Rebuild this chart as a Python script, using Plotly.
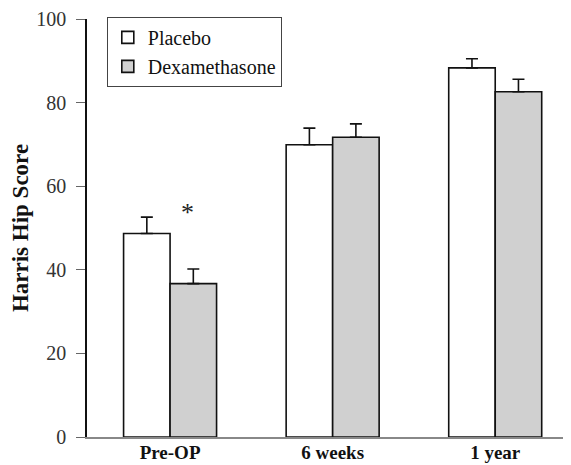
import plotly.graph_objects as go

categories = ["Pre-OP", "6 weeks", "1 year"]
placebo = [48.7, 69.9, 88.3]
placebo_err = [3.9, 4.0, 2.2]
dexa = [36.7, 71.7, 82.6]
dexa_err = [3.5, 3.2, 3.0]

font_family = "Liberation Serif, Times New Roman, serif"

fig = go.Figure()
fig.add_trace(go.Bar(
    name="Placebo", x=categories, y=placebo,
    marker=dict(color="white", line=dict(color="#111111", width=1.6)),
    error_y=dict(type="data", array=placebo_err, arrayminus=[0]*3, symmetric=False,
                 color="#111111", thickness=1.6, width=6),
))
fig.add_trace(go.Bar(
    name="Dexamethasone", x=categories, y=dexa,
    marker=dict(color="#d0d0d0", line=dict(color="#111111", width=1.6)),
    error_y=dict(type="data", array=dexa_err, arrayminus=[0]*3, symmetric=False,
                 color="#111111", thickness=1.6, width=6),
))

fig.add_annotation(x="Pre-OP", y=53.8, text="*", showarrow=False, xshift=17,
                   font=dict(family=font_family, size=26, color="#222"))

# page body has an 8px margin, so the figure is offset by 8px
fig.update_layout(
    width=563, height=457,
    margin=dict(l=79, r=1, t=11, b=28, autoexpand=False),
    paper_bgcolor="white", plot_bgcolor="white",
    barmode="group", bargap=0.428, bargroupgap=0,
    showlegend=True,
    legend=dict(x=0.041, y=1.005, xanchor="left", yanchor="top",
                bordercolor="#444", borderwidth=1,
                entrywidth=155, entrywidthmode="pixels",
                font=dict(family=font_family, size=20, color="#111"),
                bgcolor="white", tracegroupgap=0),
    xaxis=dict(range=[-0.511, 2.46], showline=True, linecolor="#888", linewidth=1.5,
               automargin=False, ticklabelstandoff=-3,
               ticks="", tickfont=dict(family=font_family, size=19, color="#111"),
               tickprefix="<b>", ticksuffix="</b>", showgrid=False, zeroline=False),
    yaxis=dict(range=[0, 100], tickvals=[0, 20, 40, 60, 80, 100],
               automargin=False,
               showline=True, linecolor="#111", linewidth=1.5,
               ticks="outside", ticklen=9, tickcolor="#666", tickwidth=1.2,
               ticklabelstandoff=6,
               tickfont=dict(family=font_family, size=20, color="#333"),
               title=dict(text="<b>Harris Hip Score</b>", standoff=10,
                          font=dict(family=font_family, size=23, color="#111")),
               showgrid=False, zeroline=False),
)

fig.write_html("out.html")
